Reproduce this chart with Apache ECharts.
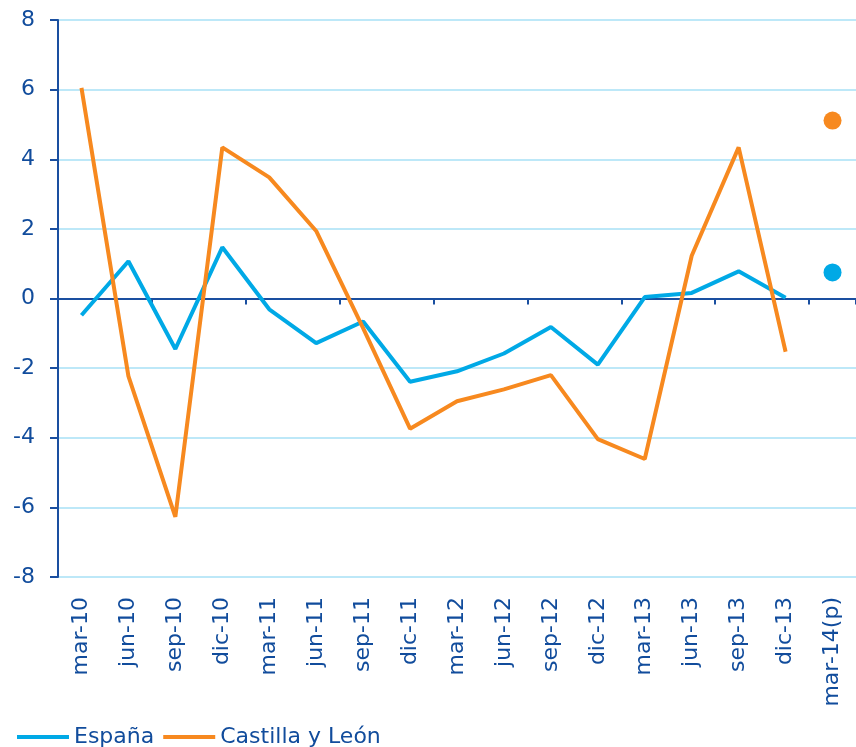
<!DOCTYPE html>
<html>
<head>
<meta charset="utf-8">
<script src="https://cdn.jsdelivr.net/npm/echarts@6/dist/echarts.min.js"></script>
<style>
  html, body { margin: 0; padding: 0; background: #fff; }
  #chart { width: 856px; height: 747px; }
</style>
</head>
<body>
<div id="chart"></div>
<script>
// trimestres
var categories = ['mar-10', 'jun-10', 'sep-10', 'dic-10', 'mar-11', 'jun-11', 'sep-11', 'dic-11',
  'mar-12', 'jun-12', 'sep-12', 'dic-12', 'mar-13', 'jun-13', 'sep-13', 'dic-13', 'mar-14(p)'];

// series hasta dic-13
var espana = [-0.48, 1.07, -1.45, 1.47, -0.31, -1.28, -0.66, -2.39,
  -2.09, -1.58, -0.82, -1.9, 0.04, 0.16, 0.78, 0.02];
var castilla = [6.05, -2.23, -6.27, 4.34, 3.48, 1.94, -0.85, -3.74,
  -2.95, -2.61, -2.2, -4.04, -4.61, 1.23, 4.34, -1.53];

// previsión mar-14(p)
var espanaPrev = 0.75;
var castillaPrev = 5.11;

var yTicks = { min: -8, max: 8, step: 2 };

var azul = '#00a9e6';
var naranja = '#f7891f';
var texto = '#114c9c';

var chart = echarts.init(document.getElementById('chart'));
chart.setOption({
  animation: false,
  grid: { left: 58, right: 0, top: 20, bottom: 170, containLabel: false },
  legend: {
    left: 12,
    top: 721,
    itemWidth: 52,
    itemHeight: 4,
    itemGap: 9,
    icon: 'rect',
    textStyle: { color: texto, fontSize: 22, fontFamily: 'DejaVu Sans' },
    data: ['España', 'Castilla y León']
  },
  xAxis: [
    {
      type: 'category',
      data: categories,
      boundaryGap: true,
      axisLine: { onZero: true, lineStyle: { color: '#1a4fa0', width: 2 } },
      axisTick: { show: true, length: 6, lineStyle: { color: '#1a4fa0', width: 2 } },
      axisLabel: { show: false }
    },
    {
      type: 'category',
      data: categories,
      position: 'bottom',
      boundaryGap: true,
      axisLine: { show: false, onZero: false },
      axisTick: { show: false },
      axisLabel: {
        rotate: 90,
        margin: 20,
        interval: 0,
        color: texto,
        fontSize: 22,
        fontFamily: 'DejaVu Sans'
      }
    }
  ],
  yAxis: {
    type: 'value',
    min: yTicks.min,
    max: yTicks.max,
    interval: yTicks.step,
    axisLine: { show: true, lineStyle: { color: '#1a4fa0', width: 2 } },
    axisTick: { show: true, length: 8, lineStyle: { color: '#1a4fa0', width: 2 } },
    axisLabel: { color: texto, fontSize: 22, margin: 23, fontFamily: 'DejaVu Sans' },
    splitLine: { show: true, lineStyle: { color: '#bde8f8', width: 2 } }
  },
  series: [
    {
      name: 'España',
      type: 'line',
      data: espana,
      showSymbol: false,
      symbol: 'none',
      lineStyle: { color: azul, width: 4 },
      itemStyle: { color: azul },
      z: 3
    },
    {
      name: 'Castilla y León',
      type: 'line',
      data: castilla,
      showSymbol: false,
      symbol: 'none',
      lineStyle: { color: naranja, width: 4 },
      itemStyle: { color: naranja },
      z: 4
    },
    {
      name: 'prev-esp',
      type: 'scatter',
      data: [[categories[16], espanaPrev]],
      symbolSize: 18,
      itemStyle: { color: azul, opacity: 1 }
    },
    {
      name: 'prev-cyl',
      type: 'scatter',
      data: [[categories[16], castillaPrev]],
      symbolSize: 18,
      itemStyle: { color: naranja, opacity: 1 }
    }
  ]
});
</script>
</body>
</html>
